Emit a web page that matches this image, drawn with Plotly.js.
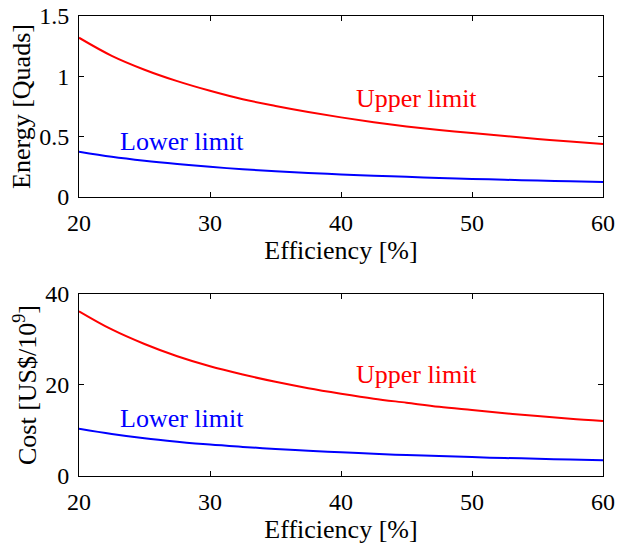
<!DOCTYPE html>
<html><head><meta charset="utf-8">
<script src="https://cdn.plot.ly/plotly-3.0.1.min.js"></script>
<style>html,body{margin:0;padding:0;background:#fff;}#plot{width:617px;height:547px;}</style>
</head><body><div id="plot"></div>
<script>
const efficiency = [20, 22.5, 25, 27.5, 30, 32.5, 35, 37.5, 40, 42.5, 45, 47.5, 50, 52.5, 55, 57.5, 60];
const energyUpper = [1.32, 1.17, 1.055, 0.96, 0.88, 0.81, 0.755, 0.705, 0.66, 0.62, 0.585, 0.555, 0.53, 0.505, 0.48, 0.46, 0.44];
const energyLower = [0.375, 0.333, 0.30, 0.273, 0.25, 0.23, 0.214, 0.20, 0.187, 0.176, 0.167, 0.158, 0.15, 0.143, 0.136, 0.13, 0.125];
const costUpper = [36.2, 32.2, 29.0, 26.3, 24.1, 22.3, 20.7, 19.3, 18.1, 17.0, 16.1, 15.2, 14.5, 13.8, 13.2, 12.6, 12.1];
const costLower = [10.4, 9.25, 8.3, 7.55, 6.9, 6.4, 5.95, 5.55, 5.2, 4.9, 4.6, 4.4, 4.15, 3.95, 3.8, 3.6, 3.45];
const xTicks = [20, 30, 40, 50, 60];
const energyTicks = [0, 0.5, 1, 1.5];
const energyTickText = ['0', '0.5', '1', '1.5'];
const costTicks = [0, 20, 40];

const FONT = 'Liberation Serif';
const traces = [
  {x: efficiency, y: energyUpper, xaxis: 'x', yaxis: 'y', mode: 'lines', line: {color: '#ff0000', width: 2, shape: 'spline'}},
  {x: efficiency, y: energyLower, xaxis: 'x', yaxis: 'y', mode: 'lines', line: {color: '#0000ff', width: 2, shape: 'spline'}},
  {x: efficiency, y: costUpper, xaxis: 'x2', yaxis: 'y2', mode: 'lines', line: {color: '#ff0000', width: 2, shape: 'spline'}},
  {x: efficiency, y: costLower, xaxis: 'x2', yaxis: 'y2', mode: 'lines', line: {color: '#0000ff', width: 2, shape: 'spline'}}
];
const axisCommon = {showline: true, linecolor: '#000', linewidth: 1, mirror: 'ticks', ticks: 'inside', ticklen: 5, tickcolor: '#000',
  showgrid: false, zeroline: false, tickfont: {family: FONT, size: 24, color: '#000'}};
const layout = {
  width: 617, height: 547, showlegend: false,
  paper_bgcolor: '#fff', plot_bgcolor: '#fff',
  margin: {l: 79, r: 14, t: 16, b: 71},
  font: {family: FONT, color: '#000'},
  xaxis: Object.assign({}, axisCommon, {domain: [0, 1], anchor: 'y', range: [20, 60], tickvals: xTicks, ticklabelstandoff: 4,
    title: {text: 'Efficiency [%]', font: {family: FONT, size: 26}, standoff: 5}}),
  yaxis: Object.assign({}, axisCommon, {domain: [0.6065, 1], anchor: 'x', range: [0, 1.5], tickvals: energyTicks, ticktext: energyTickText, ticklabelstandoff: 4,
    title: {text: 'Energy [Quads]', font: {family: FONT, size: 26}, standoff: 1}}),
  xaxis2: Object.assign({}, axisCommon, {domain: [0, 1], anchor: 'y2', range: [20, 60], tickvals: xTicks, ticklabelstandoff: 4,
    title: {text: 'Efficiency [%]', font: {family: FONT, size: 26}, standoff: 5}}),
  yaxis2: Object.assign({}, axisCommon, {domain: [0, 0.3957], anchor: 'x2', range: [0, 40], tickvals: costTicks, ticklabelstandoff: 4,
    title: {text: 'Cost [US$/10<sup>9</sup>]', font: {family: FONT, size: 26}, standoff: 1}}),
  annotations: [
    {x: 45.8, y: 0.82, xref: 'x', yref: 'y', text: 'Upper limit', showarrow: false, font: {family: FONT, size: 26, color: '#ff0000'}},
    {x: 27.9, y: 0.456, xref: 'x', yref: 'y', text: 'Lower limit', showarrow: false, font: {family: FONT, size: 26, color: '#0000ff'}},
    {x: 45.8, y: 22.2, xref: 'x2', yref: 'y2', text: 'Upper limit', showarrow: false, font: {family: FONT, size: 26, color: '#ff0000'}},
    {x: 27.9, y: 12.7, xref: 'x2', yref: 'y2', text: 'Lower limit', showarrow: false, font: {family: FONT, size: 26, color: '#0000ff'}}
  ]
};
Plotly.newPlot('plot', traces, layout, {staticPlot: true, displayModeBar: false});
</script></body></html>
